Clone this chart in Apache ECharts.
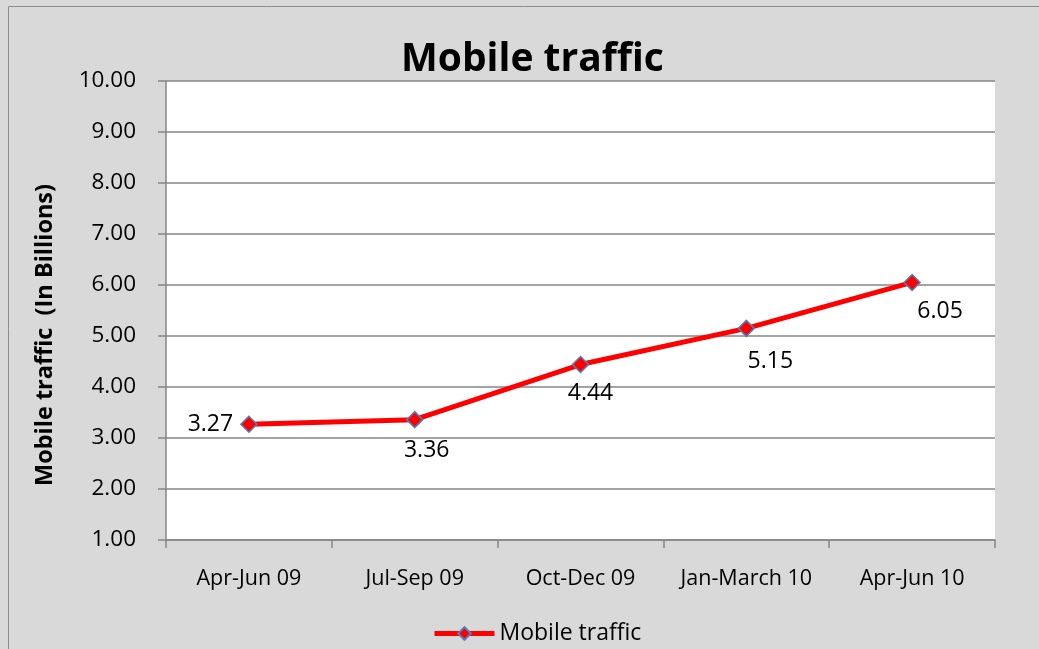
<!DOCTYPE html>
<html><head><meta charset="utf-8">
<script src="https://cdn.jsdelivr.net/npm/echarts@6/dist/echarts.min.js"></script>
<style>html,body{margin:0;padding:0;background:#fff}#c{width:1039px;height:649px}</style>
</head><body><div id="c"></div>
<script>
const categories = ['Apr-Jun 09','Jul-Sep 09','Oct-Dec 09','Jan-March 10','Apr-Jun 10'];
const trafficValues = [3.27, 3.36, 4.44, 5.15, 6.05];
const seriesName = 'Mobile traffic';
const titleText = 'Mobile traffic';
const yAxisTitle = 'Mobile traffic  (In Billions)';

const labelPlacement = [
  {position:'left', offset:[-2,0]},
  {position:'bottom', offset:[12,6]},
  {position:'bottom', offset:[10,4]},
  {position:'bottom', offset:[24,8]},
  {position:'bottom', offset:[28,4]}
];
const font = '"Open Sans", "Noto Sans", sans-serif';
const chart = echarts.init(document.getElementById('c'));
chart.setOption({
  backgroundColor:'#d9d9d9',
  animation:false,
  textStyle:{fontFamily:font},
  title:{text:titleText,left:396,top:35,textStyle:{fontSize:39,fontWeight:'bold',color:'#000',fontFamily:font}},
  graphic:[
    {type:'rect',shape:{x:8.5,y:6.5,width:1040,height:660},style:{fill:'none',stroke:'#8c8c8c',lineWidth:1},silent:true},
    {type:'text',x:45,y:335,rotation:Math.PI/2,style:{text:yAxisTitle,fontSize:23.5,fontWeight:'bold',fontFamily:font,fill:'#000',align:'center',verticalAlign:'middle'}}
  ],
  grid:{left:166,right:44,top:81,bottom:109,backgroundColor:'#fff',show:true,borderWidth:0},
  legend:{bottom:-1,left:427,itemWidth:60,itemHeight:16,itemGap:4,
    lineStyle:{width:5,color:'#ff0000'},
    textStyle:{fontSize:23,color:'#000',fontFamily:font},
    data:[{name:seriesName}]},
  xAxis:{type:'category',data:categories,boundaryGap:true,
    axisLine:{lineStyle:{color:'#868686',width:1.5}},
    axisTick:{show:true,length:8,inside:false,lineStyle:{color:'#868686',width:1.5}},
    axisLabel:{fontSize:21.5,color:'#000',margin:28,interval:0,fontFamily:font}},
  yAxis:{type:'value',min:1,max:10,interval:1,
    axisLine:{show:true,lineStyle:{color:'#868686',width:1.5}},
    axisTick:{show:true,length:8,lineStyle:{color:'#868686',width:1.5}},
    splitLine:{lineStyle:{color:'#868686',width:1.5}},
    axisLabel:{fontSize:22.5,color:'#000',margin:30,fontFamily:font,formatter:v=>v.toFixed(2)}},
  series:[{name:seriesName,type:'line',data:trafficValues.map((v,i)=>({value:v,label:labelPlacement[i]})),
    symbol:'diamond',symbolSize:16,
    lineStyle:{color:'#ff0000',width:5},
    itemStyle:{color:'#ff0000',borderColor:'#4f81bd',borderWidth:1.5},
    label:{show:true,fontSize:23,color:'#000',fontFamily:font,formatter:p=>p.value.toFixed(2)}}]
});
</script></body></html>
